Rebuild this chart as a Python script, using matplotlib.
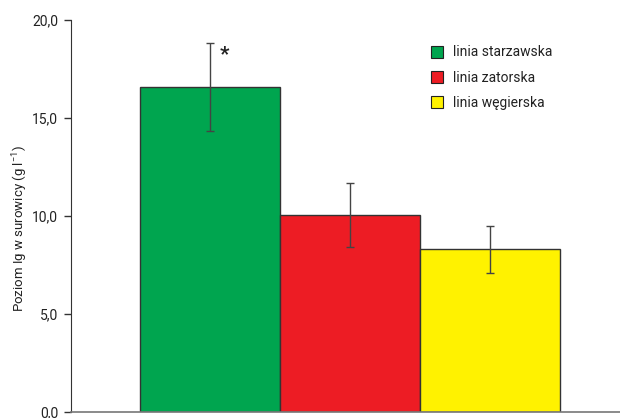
import matplotlib
matplotlib.use("Agg")
import matplotlib.pyplot as plt
from matplotlib.lines import Line2D

# --- Data ---
lines = ["linia starzawska", "linia zatorska", "linia węgierska"]
means = [16.6, 10.05, 8.3]
errors = [2.25, 1.63, 1.2]
colors = ["#00a54f", "#ed1c24", "#fff200"]
yticks = [0, 5, 10, 15, 20]
ytick_labels = ["0,0", "5,0", "10,0", "15,0", "20,0"]

plt.rcParams["font.family"] = ["Liberation Sans Narrow", "DejaVu Sans Condensed", "Roboto", "DejaVu Sans"]
plt.rcParams["mathtext.default"] = "regular"

fig = plt.figure(figsize=(6.2, 4.18), dpi=100)
ax = fig.add_axes([70.7 / 620, 6.5 / 418, 1 - 70.7 / 620, 391.5 / 418])

x = range(len(means))
ax.bar(x, means, width=1.0, color=colors, edgecolor="#333333", linewidth=1.0)
ax.errorbar(x, means, yerr=errors, fmt="none", ecolor="#444444",
            elinewidth=1.0, capsize=3, capthick=1.0)
ax.text(0.1, 18.25, "*", fontsize=15, fontweight="bold", ha="center", va="center",
        color="#222222")

ax.set_xlim(-0.995, 2.93)
ax.set_ylim(0, 20)
ax.set_xticks([])
ax.set_yticks(yticks)
ax.set_yticklabels(ytick_labels, fontsize=10, color="#222222")
ax.tick_params(axis="y", direction="out", length=5, width=1, color="#333333", pad=4)
ax.set_ylabel("Poziom Ig w surowicy (g l$^{-1}$)", fontsize=9.5, color="#222222")
ax.yaxis.set_label_coords(-0.075, 0.466)

for side in ["top", "right"]:
    ax.spines[side].set_visible(False)
ax.spines["left"].set_color("#333333")
ax.spines["bottom"].set_color("#777777")
ax.spines["bottom"].set_linewidth(1.2)

# Legend
handles = [Line2D([], [], marker="s", linestyle="none", markersize=8.5,
                  markerfacecolor=c, markeredgecolor="#222222", markeredgewidth=0.8)
           for c in colors]
ax.legend(handles, lines, loc="upper left", bbox_to_anchor=(0.632, 0.967), frameon=False,
          fontsize=10, handletextpad=0.6, labelspacing=0.8, handlelength=1.0,
          labelcolor="#222222")

fig.savefig("out.png", dpi=100)
